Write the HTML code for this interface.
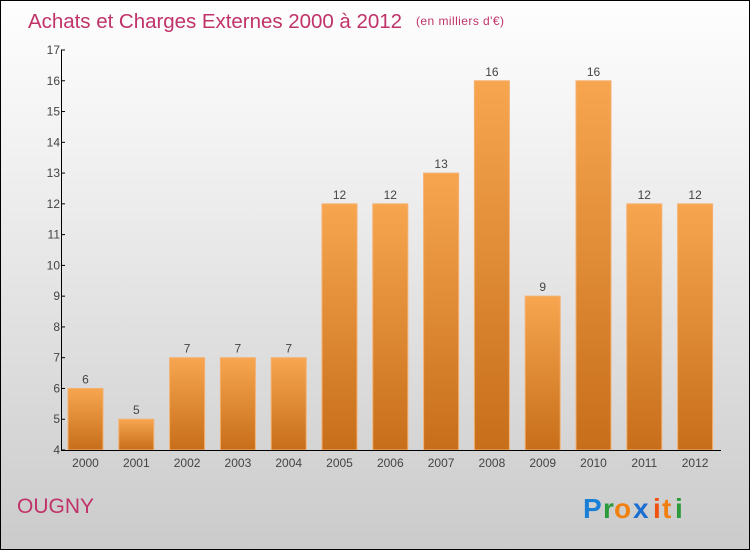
<!DOCTYPE html>
<html><head><meta charset="utf-8"><style>
body{margin:0;}
#wrap{position:relative;width:748px;height:548px;border:1px solid #000;background:linear-gradient(#fefefe,#f0f0f0 30%,#d8d8d8 75%,#cbcbcb);font-family:"Liberation Sans",sans-serif;overflow:hidden}
</style></head><body>
<div id="wrap">
<svg id="c" width="748" height="548">
<defs><linearGradient id="g" x1="0" y1="0" x2="0" y2="1"><stop offset="0" stop-color="#f7a64f"/><stop offset="1" stop-color="#c76e1a"/></linearGradient></defs>
<text x="27" y="27" font-size="20.5" fill="#c0336a" textLength="374">Achats et Charges Externes 2000 à 2012</text>
<text x="415" y="24" font-size="12" fill="#c0336a" textLength="88">(en milliers d'€)</text>
<text x="16" y="512" font-size="21" fill="#c0336a">OUGNY</text>
<g font-size="28" font-weight="bold" font-family="Liberation Sans,sans-serif"><text x="582" y="517" fill="#1a7fd6">P</text><text x="602" y="517" fill="#2a9a3a">r</text><text x="613" y="517" fill="#f08010">o</text><text x="632" y="517" fill="#1a6fd0">x</text><text x="652" y="517" fill="#f05010">i</text><text x="661" y="517" fill="#f08010">t</text><text x="674" y="517" fill="#2a9a3a">i</text></g>
<g id="plot"></g>
</svg></div>
<script>
const categories=["2000","2001","2002","2003","2004","2005","2006","2007","2008","2009","2010","2011","2012"];
const values=[6,5,7,7,7,12,12,13,16,9,16,12,12];
const yTicks=[4,5,6,7,8,9,10,11,12,13,14,15,16,17];
const NS="http://www.w3.org/2000/svg";
const g=document.getElementById('plot');
const y=v=>449-(v-4)*(400/13);
const x=i=>84.5+i*50.8;
function mk(t,a,txt){const e=document.createElementNS(NS,t);for(const k in a)e.setAttribute(k,a[k]);if(txt!=null)e.textContent=txt;g.appendChild(e);return e;}
values.forEach((v,i)=>{
 const r=mk('rect',{x:x(i)-17.5,y:y(v),width:35,height:y(4)-y(v),fill:'url(#g)',stroke:'#f4b070','stroke-width':1});
 
 
 const l=mk('text',{x:x(i),y:y(v)-5,'font-size':12,fill:'#444','text-anchor':'middle'},String(v));
 
 
 const c=mk('text',{x:x(i),y:466,'font-size':12,fill:'#444','text-anchor':'middle'},categories[i]);
 
 
});
yTicks.forEach(t=>{
 const tk=mk('line',{x1:60,x2:64,y1:y(t),y2:y(t),stroke:'#000'});
 
 
 const tl=mk('text',{x:59,y:y(t)+4,'font-size':12,fill:'#444','text-anchor':'end'},String(t));
 
 
});
const ya=mk('line',{x1:60.5,x2:60.5,y1:y(17),y2:y(4),stroke:'#000'});


const xa=mk('line',{x1:60,x2:720,y1:y(4)+0.5,y2:y(4)+0.5,stroke:'#000'});


</script>
</body></html>
